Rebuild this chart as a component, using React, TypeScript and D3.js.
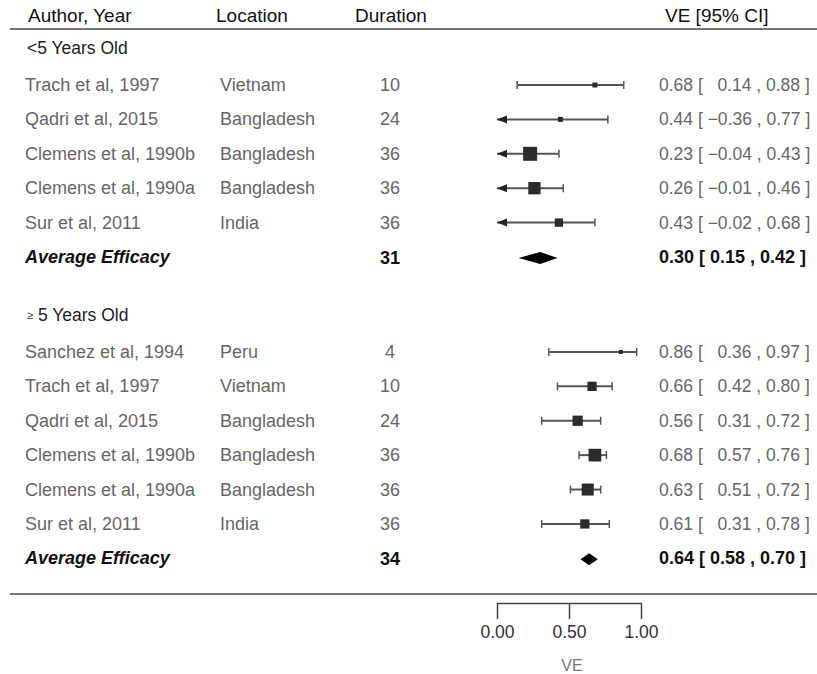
import { useEffect, useRef } from "react";
import * as d3 from "d3";

// <5 years old
const under5Studies = ["Trach et al, 1997", "Qadri et al, 2015", "Clemens et al, 1990b", "Clemens et al, 1990a", "Sur et al, 2011"];
const under5Locations = ["Vietnam", "Bangladesh", "Bangladesh", "Bangladesh", "India"];
const under5Duration = [10, 24, 36, 36, 36];
const under5VE = [0.68, 0.44, 0.23, 0.26, 0.43];
const under5Lower = [0.14, -0.36, -0.04, -0.01, -0.02];
const under5Upper = [0.88, 0.77, 0.43, 0.46, 0.68];
const under5Weight = [5.1, 5.1, 40, 30.9, 14.1];

// >=5 years old
const over5Studies = ["Sanchez et al, 1994", "Trach et al, 1997", "Qadri et al, 2015", "Clemens et al, 1990b", "Clemens et al, 1990a", "Sur et al, 2011"];
const over5Locations = ["Peru", "Vietnam", "Bangladesh", "Bangladesh", "Bangladesh", "India"];
const over5Duration = [4, 10, 24, 36, 36, 36];
const over5VE = [0.86, 0.66, 0.56, 0.68, 0.63, 0.61];
const over5Lower = [0.36, 0.42, 0.31, 0.57, 0.51, 0.31];
const over5Upper = [0.97, 0.8, 0.72, 0.76, 0.72, 0.78];
const over5Weight = [2.2, 17.6, 21.6, 32.9, 29.4, 17.6];

// summary rows (<5, >=5)
const summaryDuration = [31, 34];
const summaryVE = [0.3, 0.64];
const summaryLower = [0.15, 0.58];
const summaryUpper = [0.42, 0.7];

const groupLabels = ["<5 Years Old", "5 Years Old"];
const headers = ["Author, Year", "Location", "Duration", "VE [95% CI]"];
const xTicks = [0, 0.5, 1];

const width = 817;
const height = 674;
const FONT = "'Liberation Sans', Arial, Helvetica, sans-serif";

const fmt = d3.format(".2f");
const ci = (v: number) => (v < 0 ? "\u2212" + fmt(-v) : "\u2007" + fmt(v));
const veLabel = (e: number, l: number, u: number) => `${fmt(e)} [ ${ci(l)} , ${fmt(u)} ]`;

const App = () => {
  const ref = useRef<SVGSVGElement>(null);

  useEffect(() => {
    document.body.style.margin = "0";
    const svg = d3.select(ref.current);
    svg.selectAll("*").remove();

    const x = d3.scaleLinear().domain([0, 1]).range([497, 641]);
    const y = d3.scaleLinear().domain([1, 6]).range([85, 257]);
    const side = d3.scaleSqrt().domain([0, 40]).range([0, 14]);

    const groups = [
      { studies: under5Studies, loc: under5Locations, dur: under5Duration, ve: under5VE, lo: under5Lower, hi: under5Upper, w: under5Weight, start: 1 },
      { studies: over5Studies, loc: over5Locations, dur: over5Duration, ve: over5VE, lo: over5Lower, hi: over5Upper, w: over5Weight, start: 8.76 },
    ];

    // header
    const hx = [28, 216, 391, 665];
    svg
      .selectAll("text.header")
      .data(headers)
      .join("text")
      .attr("class", "header")
      .attr("x", (_, i) => hx[i])
      .attr("y", 15)
      .attr("dominant-baseline", "central")
      .attr("text-anchor", (_, i) => (i === 2 ? "middle" : "start"))
      .attr("font-size", 19)
      .attr("fill", "#111")
      .text((d) => d);

    svg.append("line").attr("x1", 10).attr("x2", width).attr("y1", 29).attr("y2", 29).attr("stroke", "#777").attr("stroke-width", 2);
    svg.append("line").attr("x1", 10).attr("x2", width).attr("y1", 594).attr("y2", 594).attr("stroke", "#777").attr("stroke-width", 2);

    groups.forEach((g, gi) => {
      const gy = y(g.start) - 37;
      const gl = svg
        .append("text")
        .attr("x", 27)
        .attr("y", gy)
        .attr("dominant-baseline", "central")
        .attr("font-size", 17.5)
        .attr("fill", "#222");
      if (gi === 1) {
        gl.append("tspan").attr("font-size", 11).text("\u2265");
        gl.append("tspan").text(" " + groupLabels[gi]);
      } else {
        gl.text(groupLabels[gi]);
      }

      const rows = g.studies.map((s, i) => ({
        s,
        loc: g.loc[i],
        dur: g.dur[i],
        ve: g.ve[i],
        lo: g.lo[i],
        hi: g.hi[i],
        w: g.w[i],
        yy: y(g.start + i),
      }));

      const gr = svg.append("g").attr("font-size", 18).attr("fill", "#666").attr("dominant-baseline", "central");
      gr.selectAll("text.author").data(rows).join("text").attr("x", 25).attr("y", (d) => d.yy).text((d) => d.s);
      gr.selectAll("text.loc").data(rows).join("text").attr("x", 220).attr("y", (d) => d.yy).text((d) => d.loc);
      gr.selectAll("text.dur").data(rows).join("text").attr("x", 390).attr("text-anchor", "middle").attr("y", (d) => d.yy).text((d) => d.dur);
      gr.selectAll("text.ve")
        .data(rows)
        .join("text")
        .attr("x", 659)
        .attr("y", (d) => d.yy)
        .attr("font-size", 17.5)
        .style("white-space", "pre")
        .text((d) => veLabel(d.ve, d.lo, d.hi));

      // CI lines
      const bars = svg.append("g").attr("stroke", "#555").attr("stroke-width", 2).attr("fill", "#555");
      rows.forEach((d) => {
        const x1 = x(Math.max(0, d.lo));
        const x2 = x(Math.min(1, d.hi));
        bars.append("line").attr("x1", x1).attr("x2", x2).attr("y1", d.yy).attr("y2", d.yy);
        if (d.lo < 0) {
          bars
            .append("path")
            .attr("stroke", "none")
            .attr("fill", "#222")
            .attr("d", `M${x1},${d.yy}L${x1 + 10},${d.yy - 4}L${x1 + 10},${d.yy + 4}Z`);
        } else {
          bars.append("line").attr("x1", x1).attr("x2", x1).attr("y1", d.yy - 4).attr("y2", d.yy + 4).attr("stroke-width", 1.5);
        }
        bars.append("line").attr("x1", x2).attr("x2", x2).attr("y1", d.yy - 4).attr("y2", d.yy + 4).attr("stroke-width", 1.5);
        const s = Math.max(4, side(d.w));
        svg
          .append("rect")
          .attr("x", x(d.ve) - s / 2)
          .attr("y", d.yy - s / 2)
          .attr("width", s)
          .attr("height", s)
          .attr("fill", "#2b2b2b");
      });

      // summary row
      const sy = y(g.start + g.studies.length);
      const sb = svg.append("g").attr("font-size", 18).attr("fill", "#111").attr("dominant-baseline", "central");
      sb.append("text").attr("x", 25).attr("y", sy).attr("font-weight", "bold").attr("font-style", "italic").text("Average Efficacy");
      sb.append("text").attr("x", 390).attr("y", sy + 1).attr("text-anchor", "middle").attr("font-weight", "bold").text(summaryDuration[gi]);
      sb.append("text")
        .attr("x", 659)
        .attr("y", sy)
        .attr("font-weight", "bold")
        .style("white-space", "pre")
        .text(`${fmt(summaryVE[gi])} [ ${fmt(summaryLower[gi])} , ${fmt(summaryUpper[gi])} ]`);
      const dh = 6;
      svg
        .append("path")
        .attr("fill", "#000")
        .attr(
          "d",
          `M${x(summaryLower[gi])},${sy + 1}L${x(summaryVE[gi])},${sy + 1 - dh}L${x(summaryUpper[gi])},${sy + 1}L${x(summaryVE[gi])},${sy + 1 + dh}Z`
        );
    });

    // axis
    const axis = svg
      .append("g")
      .attr("transform", "translate(0,603)")
      .call(d3.axisBottom(x).tickValues(xTicks).tickFormat(fmt).tickSize(16).tickSizeOuter(0).tickPadding(7));
    axis.select(".domain").attr("stroke", "#444").attr("stroke-width", 1.5);
    axis.selectAll(".tick line").attr("stroke", "#444").attr("stroke-width", 1.5);
    axis.selectAll(".tick text").attr("font-size", 17.5).attr("font-family", FONT).attr("fill", "#333");

    svg
      .append("text")
      .attr("x", x(0.5) + 3)
      .attr("y", 665)
      .attr("text-anchor", "middle")
      .attr("dominant-baseline", "central")
      .attr("font-size", 16)
      .attr("fill", "#777")
      .text("VE");
  });

  return <svg ref={ref} width={width} height={height} style={{ display: "block", fontFamily: FONT, background: "#fff" }} />;
};

export default App;
